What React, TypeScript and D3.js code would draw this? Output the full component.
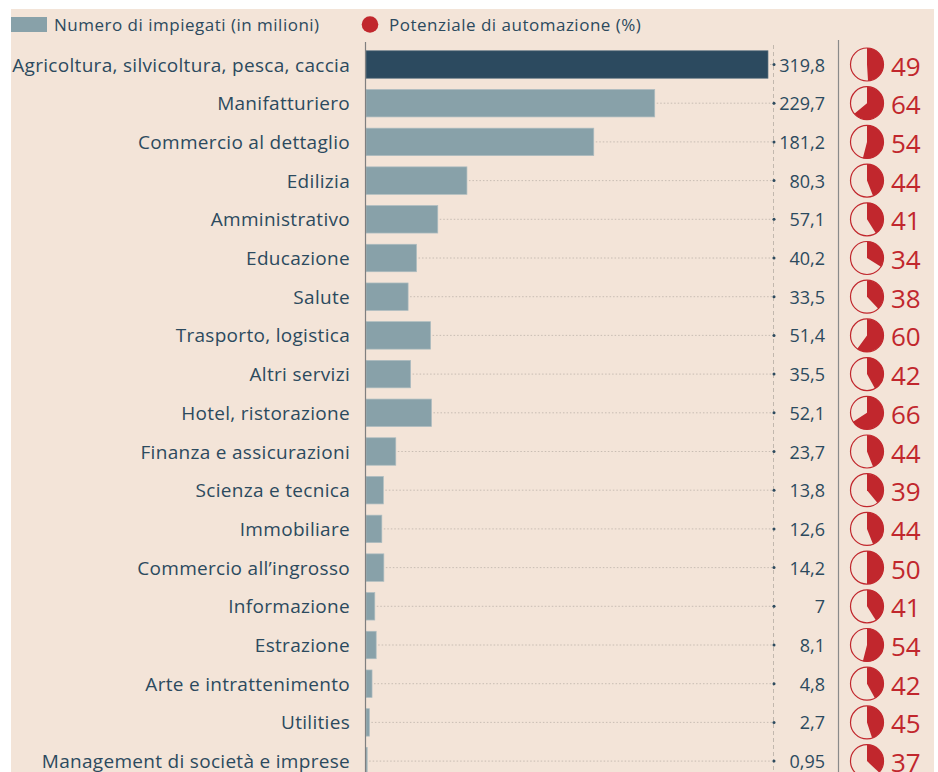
import React from "react";
import * as d3 from "d3";

const categories = [
  "Agricoltura, silvicoltura, pesca, caccia",
  "Manifatturiero",
  "Commercio al dettaglio",
  "Edilizia",
  "Amministrativo",
  "Educazione",
  "Salute",
  "Trasporto, logistica",
  "Altri servizi",
  "Hotel, ristorazione",
  "Finanza e assicurazioni",
  "Scienza e tecnica",
  "Immobiliare",
  "Commercio all’ingrosso",
  "Informazione",
  "Estrazione",
  "Arte e intrattenimento",
  "Utilities",
  "Management di società e imprese",
];
const employees = [319.8, 229.7, 181.2, 80.3, 57.1, 40.2, 33.5, 51.4, 35.5, 52.1, 23.7, 13.8, 12.6, 14.2, 7, 8.1, 4.8, 2.7, 0.95];
const automation = [49, 64, 54, 44, 41, 34, 38, 60, 42, 66, 44, 39, 44, 50, 41, 54, 42, 45, 37];
const legendLabels = ["Numero di impiegati (in milioni)", "Potenziale di automazione (%)"];

const W = 938;
const H = 772;
const BG = "#f3e4d8";
const TEXT = "#2c4a5e";
const BAR = "#88a1a9";
const BAR_DARK = "#2c4a5f";
const RED = "#c1272d";
const FONT = "'Open Sans', 'DejaVu Sans', sans-serif";

const it = d3.formatLocale({ decimal: ",", thousands: ".", grouping: [3], currency: ["", "€"] });
const fmt = it.format("~g");

export default function App() {
  const y = d3
    .scaleBand<string>()
    .domain(categories)
    .range([45.15, 780.45])
    .paddingInner(0.29)
    .paddingOuter(0.145);
  const x = d3.scaleLinear().domain([0, 319.8]).range([366, 768]);
  const arc = d3.arc<any>().innerRadius(0).outerRadius(16.5);
  const bw = y.bandwidth();

  return (
    <svg
      width={W}
      height={H}
      style={{ position: "absolute", left: 0, top: 0, fontFamily: FONT }}
    >
      <defs>
        <clipPath id="bgclip">
          <rect x={11} y={9} width={923} height={H - 9} />
        </clipPath>
      </defs>
      <rect x={0} y={0} width={W} height={H} fill="#ffffff" />
      <g clipPath="url(#bgclip)">
        <rect x={11} y={9} width={923} height={H - 9} fill={BG} />

        {/* legend */}
        <rect x={11} y={17} width={36} height={15} fill={BAR} />
        <text x={54} y={24.5} dominantBaseline="central" fontSize={17} fontWeight={500} letterSpacing={0.5} fill={TEXT}>
          {legendLabels[0]}
        </text>
        <circle cx={370} cy={24.5} r={8.3} fill={RED} />
        <text x={389} y={24.5} dominantBaseline="central" fontSize={17} fontWeight={500} letterSpacing={0.5} fill={TEXT}>
          {legendLabels[1]}
        </text>

        {/* dashed vertical reference */}
        <line x1={773.5} x2={773.5} y1={45} y2={H} stroke="#b5aca3" strokeWidth={0.8} strokeDasharray="4,3" />

        {categories.map((c, i) => {
          const cy = (y(c) as number) + bw / 2;
          const v = employees[i];
          return (
            <g key={c}>
              <line
                x1={x(v) + 2}
                x2={773}
                y1={cy}
                y2={cy}
                stroke="#bdb3aa"
                strokeWidth={0.8}
                strokeDasharray="1.5,2"
              />
              <rect
                x={x(0)}
                y={y(c)}
                width={x(v) - x(0)}
                height={bw}
                fill={i === 0 ? BAR_DARK : BAR}
                stroke={i === 0 ? "#5f7583" : "#aebdc0"}
                strokeWidth={0.7}
              />
              <circle cx={774} cy={cy} r={1.5} fill={TEXT} />
              <text
                x={350}
                y={cy}
                textAnchor="end"
                dominantBaseline="central"
                fontSize={19}
                fontWeight={500}
                letterSpacing={0.3}
                fill={TEXT}
              >
                {c}
              </text>
              <text
                x={825}
                y={cy}
                textAnchor="end"
                dominantBaseline="central"
                fontSize={18}
                fontWeight={500}
                fill={TEXT}
              >
                {fmt(v)}
              </text>
              <g transform={`translate(867,${cy})`}>
                <circle r={16.5} fill={BG} stroke={RED} strokeWidth={1.2} />
                <path
                  d={arc({ startAngle: 0, endAngle: (2 * Math.PI * automation[i]) / 100 }) as string}
                  fill={RED}
                />
              </g>
              <text
                x={891}
                y={cy + 1}
                dominantBaseline="central"
                fontSize={26}
                fontWeight={500}
                fill={RED}
              >
                {automation[i]}
              </text>
            </g>
          );
        })}

        {/* axis line */}
        <line x1={365.5} x2={365.5} y1={42} y2={H} stroke="#7f7f7f" strokeWidth={1.2} />
        {/* separator */}
        <line x1={838.5} x2={838.5} y1={40} y2={H} stroke="#8a8a8a" strokeWidth={1.2} />
      </g>
    </svg>
  );
}
